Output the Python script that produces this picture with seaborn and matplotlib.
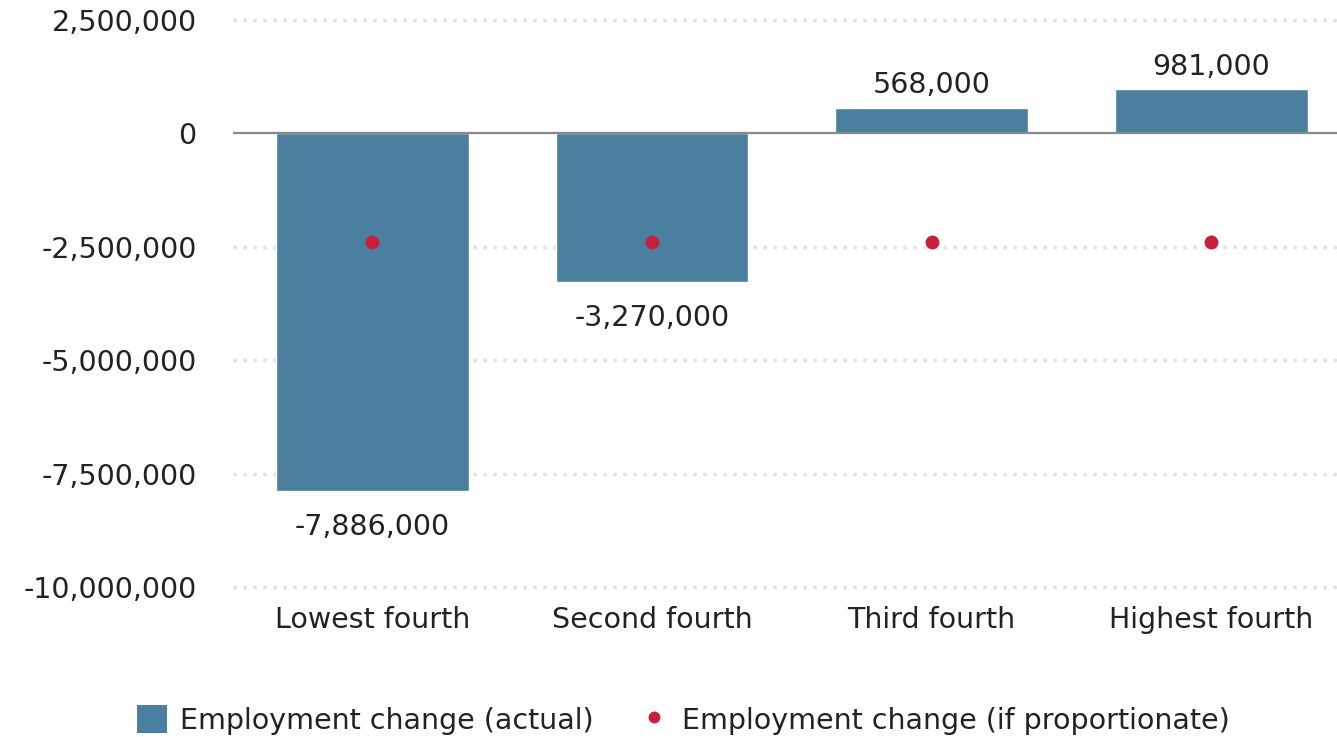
import matplotlib
matplotlib.use("Agg")
import matplotlib.pyplot as plt
import seaborn as sns
import pandas as pd
import numpy as np
from matplotlib.patches import Patch
from matplotlib.lines import Line2D
from matplotlib.ticker import FuncFormatter

# data
categories = ["Lowest fourth", "Second fourth", "Third fourth", "Highest fourth"]
actual = [-7886000, -3270000, 568000, 981000]
proportionate = [-2402000, -2402000, -2402000, -2402000]
y_ticks = [2500000, 0, -2500000, -5000000, -7500000, -10000000]

bar_color = "#4a7fa0"
dot_color = "#c8203a"
text_color = "#222222"
fs = 20.5

sns.set_style("white")
plt.rcParams["font.family"] = ["DejaVu Sans"]

df = pd.DataFrame({"group": categories, "actual": actual, "prop": proportionate})

fig = plt.figure(figsize=(13.37, 7.37), dpi=100)
ax = fig.add_axes([0.174, 0.1851, 0.826, 0.8001])

sns.barplot(data=df, x="group", y="actual", color=bar_color, width=0.69,
            saturation=1, ax=ax, zorder=3)
sns.stripplot(data=df, x="group", y="prop", color=dot_color, jitter=False,
              size=10, linewidth=0, ax=ax, zorder=4)

# value labels
for bar, v in zip(ax.patches, actual):
    x = bar.get_x() + bar.get_width() / 2
    if v >= 0:
        ax.annotate(f"{v:,}", (x, v), xytext=(0, 6), textcoords="offset points",
                    ha="center", va="bottom", fontsize=fs, color=text_color)
    else:
        ax.annotate(f"{v:,}", (x, v), xytext=(0, -16), textcoords="offset points",
                    ha="center", va="top", fontsize=fs, color=text_color)

ax.set_ylim(-10300000, 2700000)
ax.set_xlim(-0.5, 3.45)
ax.set_yticks(y_ticks)
ax.yaxis.set_major_formatter(FuncFormatter(lambda v, p: f"{int(v):,}"))

# dotted grid, solid zero line
for t in y_ticks:
    if t == 0:
        ax.axhline(0, color="#888888", lw=1.6, zorder=5)
    else:
        ax.axhline(t, color="#e0e0e0", lw=2.4, ls=(0, (1, 2)), zorder=1)

ax.set_xlabel("")
ax.set_ylabel("")
ax.tick_params(axis="y", length=0, pad=26, labelsize=fs, labelcolor=text_color)
ax.tick_params(axis="x", length=0, pad=4, labelsize=fs, labelcolor=text_color)
sns.despine(ax=ax, left=True, bottom=True)

handles = [Patch(facecolor=bar_color, edgecolor="none"),
           Line2D([], [], marker="o", ls="none", color=dot_color, markersize=7.5)]
labels = ["Employment change (actual)", "Employment change (if proportionate)"]
fig.legend(handles, labels, loc="center", bbox_to_anchor=(0.511, 0.023), ncol=2,
           frameon=False, fontsize=fs, handlelength=1.05, handleheight=1.1,
           columnspacing=1.6, handletextpad=0.45, labelcolor=text_color)

fig.savefig("out.png", dpi=100)
